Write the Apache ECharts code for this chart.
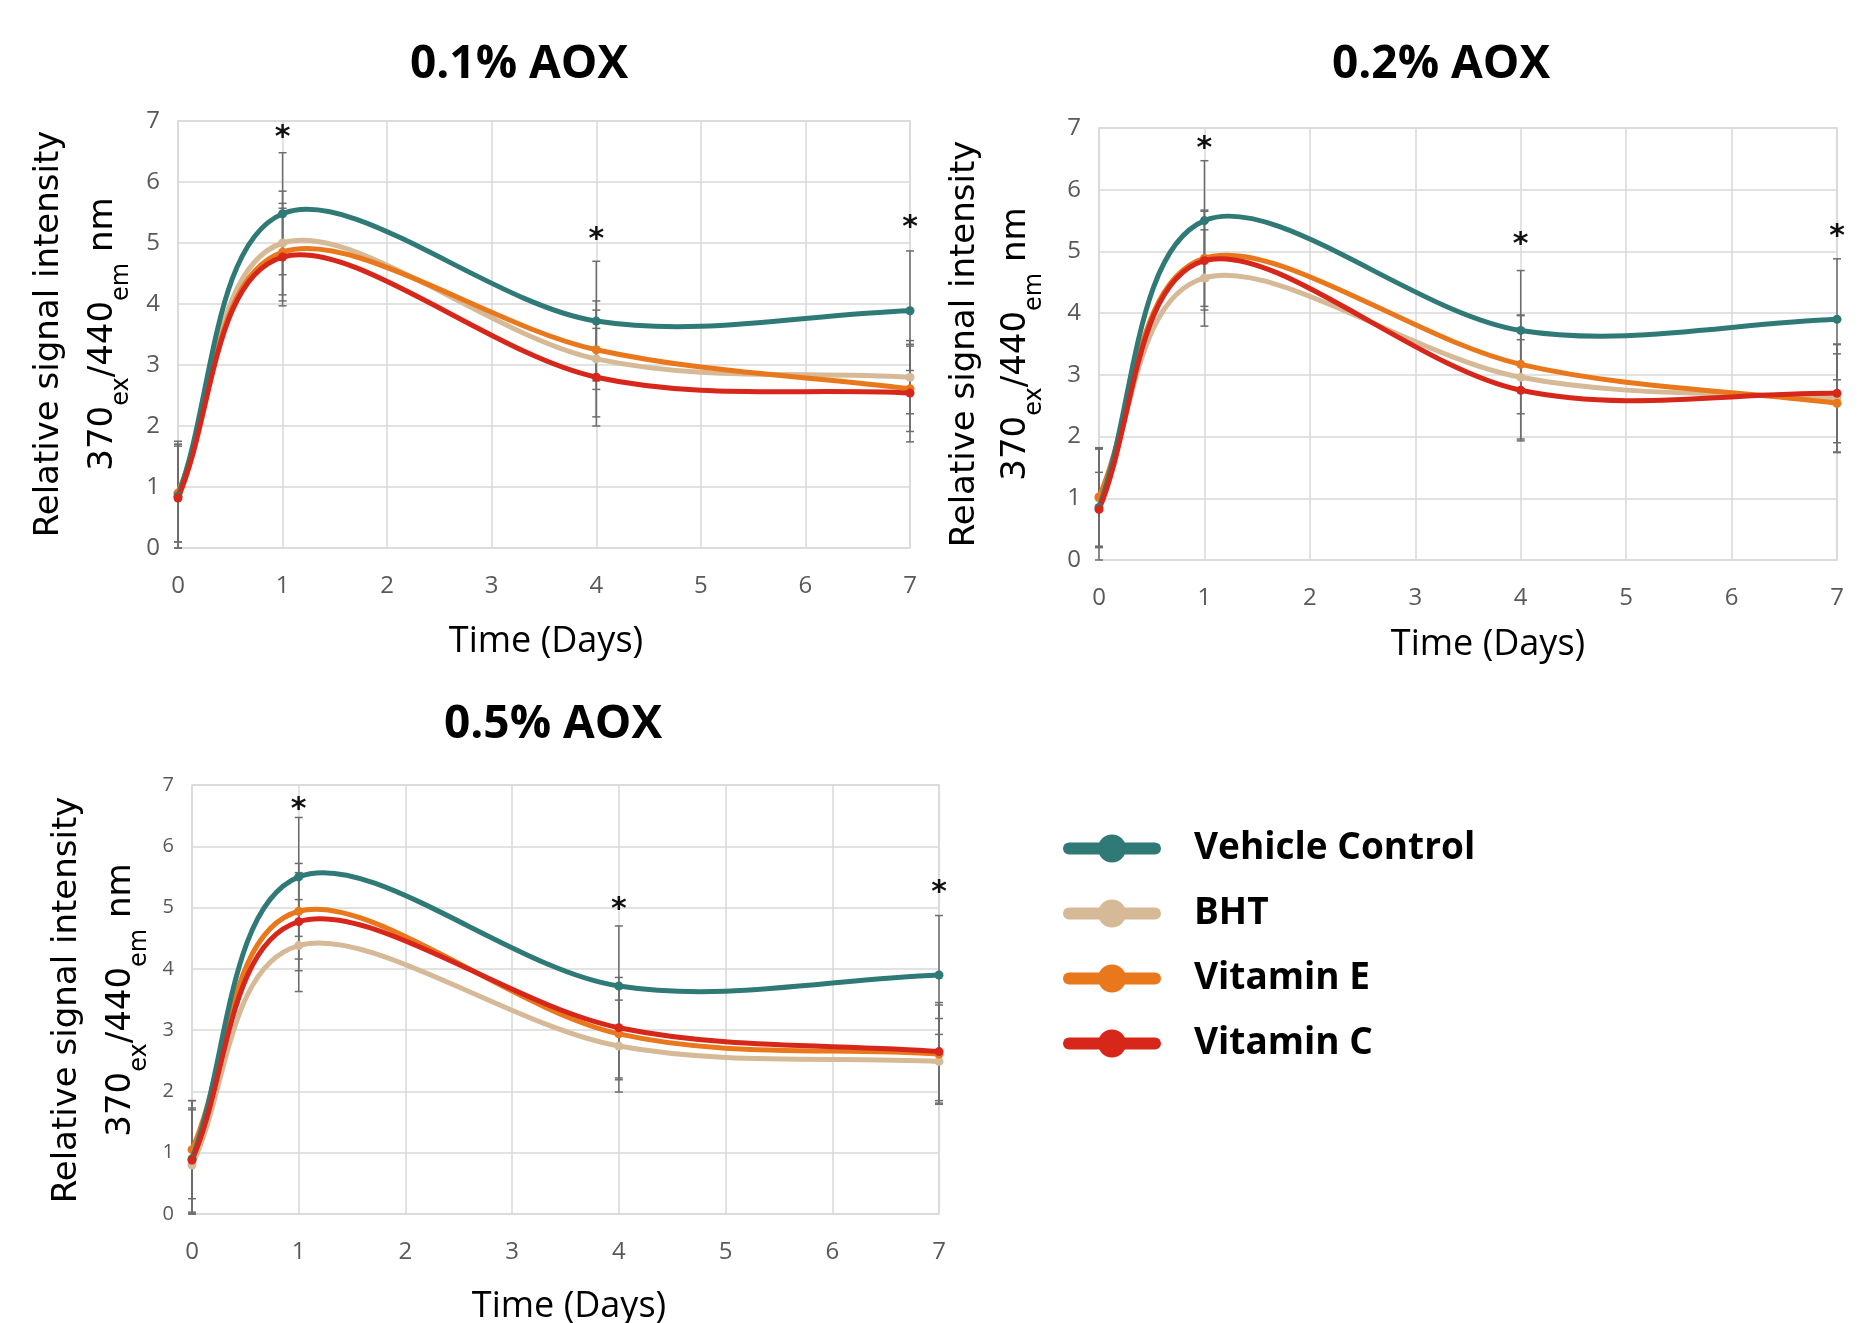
<!DOCTYPE html>
<html>
<head>
<meta charset="utf-8">
<title>AOX relative signal intensity</title>
<script src="https://cdn.jsdelivr.net/npm/echarts@6/dist/echarts.min.js"></script>
<style>
  html, body { margin: 0; padding: 0; background: #fff; }
  #main { width: 1860px; height: 1323px; }
</style>
</head>
<body>
<div id="main"></div>
<script>
// days sampled
const days = [0, 1, 4, 7];
const seriesNames = ["Vehicle Control", "BHT", "Vitamin E", "Vitamin C"];
const seriesColors = ["#2f7a76", "#d6b996", "#e9771b", "#d7261a"];
const panelTitles = ["0.1% AOX", "0.2% AOX", "0.5% AOX"];
const yTicks = [0, 1, 2, 3, 4, 5, 6, 7];

// 0.1% AOX
const vehicle1 = [0.85, 5.48, 3.72, 3.89];
const bht1 = [0.9, 5.0, 3.1, 2.8];
const vitE1 = [0.9, 4.85, 3.25, 2.61];
const vitC1 = [0.82, 4.77, 2.8, 2.54];
const vehicleSd1 = [0.9, 1.0, 0.98, 0.98];
const bhtSd1 = [0.8, 0.85, 0.95, 0.6];
const vitESd1 = [0.8, 0.8, 0.65, 0.7];
const vitCSd1 = [0.85, 0.8, 0.8, 0.8];
const stars1 = [6.82, 5.15, 5.34];

// 0.2% AOX
const vehicle2 = [0.85, 5.5, 3.72, 3.9];
const bht2 = [1.0, 4.57, 2.96, 2.62];
const vitE2 = [1.02, 4.89, 3.17, 2.54];
const vitC2 = [0.82, 4.85, 2.75, 2.7];
const vehicleSd2 = [0.95, 0.97, 0.97, 0.98];
const bhtSd2 = [0.8, 0.78, 1.0, 0.87];
const vitESd2 = [0.8, 0.78, 0.8, 0.8];
const vitCSd2 = [0.6, 0.8, 0.82, 0.8];
const stars2 = [6.75, 5.19, 5.33];

// 0.5% AOX
const vehicle3 = [0.9, 5.5, 3.72, 3.9];
const bht3 = [0.8, 4.38, 2.74, 2.49];
const vitE3 = [1.05, 4.94, 2.94, 2.61];
const vitC3 = [0.88, 4.77, 3.04, 2.65];
const vehicleSd3 = [0.95, 0.97, 0.98, 0.97];
const bhtSd3 = [0.9, 0.75, 0.75, 0.7];
const vitESd3 = [0.8, 0.78, 0.75, 0.8];
const vitCSd3 = [0.85, 0.8, 0.82, 0.8];
const stars3 = [6.69, 5.06, 5.33];
const starDays = [1, 4, 7];

const panels = [
  { values: [vehicle1, bht1, vitE1, vitC1], sds: [vehicleSd1, bhtSd1, vitESd1, vitCSd1], stars: stars1 },
  { values: [vehicle2, bht2, vitE2, vitC2], sds: [vehicleSd2, bhtSd2, vitESd2, vitCSd2], stars: stars2 },
  { values: [vehicle3, bht3, vitE3, vitC3], sds: [vehicleSd3, bhtSd3, vitESd3, vitCSd3], stars: stars3 },
];

// plot boxes in pixels
const boxes = [
  { left: 178, top: 121, width: 732, height: 427, yFont: 24 },
  { left: 1099, top: 128, width: 738, height: 432, yFont: 24 },
  { left: 192, top: 785, width: 747, height: 429, yFont: 20 },
];
const titlePos = [[514, 60], [1436, 60], [548, 720]];
const xTitlePos = [[546, 642], [1488, 645], [569, 1307]];
const yTitlePos = [[49, 103, 334], [965, 1016, 344], [67, 121, 1000]];

const gridColor = "#d9d9d9";
const labelFont = "'Liberation Sans Narrow', 'Open Sans', sans-serif";

function renderErr(params, api) {
  const x = api.value(0);
  const lo = api.coord([x, api.value(1)]);
  const hi = api.coord([x, api.value(2)]);
  const w = 4;
  const style = { stroke: "#6d6d6d", lineWidth: 1.5 };
  return {
    type: "group",
    children: [
      { type: "line", shape: { x1: lo[0], y1: lo[1], x2: hi[0], y2: hi[1] }, style },
      { type: "line", shape: { x1: lo[0] - w, y1: lo[1], x2: lo[0] + w, y2: lo[1] }, style },
      { type: "line", shape: { x1: hi[0] - w, y1: hi[1], x2: hi[0] + w, y2: hi[1] }, style },
    ],
  };
}

// spreadsheet-style smoothed line (cardinal spline through the points)
function makeCurve(vals, color) {
  return function (params, api) {
    if (params.dataIndex !== 0) return null;
    const pts = vals.map((v, i) => api.coord([days[i], v]));
    const n = pts.length;
    const at = (i) => {
      if (i < 0) return [2 * pts[0][0] - pts[1][0], 2 * pts[0][1] - pts[1][1]];
      if (i >= n) return [2 * pts[n - 1][0] - pts[n - 2][0], 2 * pts[n - 1][1] - pts[n - 2][1]];
      return pts[i];
    };
    const kids = [];
    for (let i = 0; i < n - 1; i++) {
      const p0 = at(i - 1), p1 = at(i), p2 = at(i + 1), p3 = at(i + 2);
      kids.push({
        type: "bezierCurve",
        shape: {
          x1: p1[0], y1: p1[1], x2: p2[0], y2: p2[1],
          cpx1: p1[0] + (p2[0] - p0[0]) / 6, cpy1: p1[1] + (p2[1] - p0[1]) / 6,
          cpx2: p2[0] - (p3[0] - p1[0]) / 6, cpy2: p2[1] - (p3[1] - p1[1]) / 6,
        },
        style: { stroke: color, lineWidth: 5, fill: null, lineCap: "round" },
      });
    }
    return { type: "group", children: kids };
  };
}

function renderStar(params, api) {
  const p = api.coord([api.value(0), api.value(1)]);
  return {
    type: "text",
    x: p[0],
    y: p[1] + 6,
    style: {
      text: "*",
      fill: "#111",
      font: "bold 30px 'DejaVu Sans'",
      align: "center",
      verticalAlign: "middle",
    },
  };
}

const grids = [];
const xAxes = [];
const yAxes = [];
const series = [];
const titles = [];
const graphics = [];

boxes.forEach((b, k) => {
  grids.push({ left: b.left, top: b.top, width: b.width, height: b.height, show: true, borderColor: gridColor, borderWidth: 1.5 });
  xAxes.push({
    type: "value", gridIndex: k, min: 0, max: 7, interval: 1,
    axisLine: { show: false }, axisTick: { show: false },
    splitLine: { lineStyle: { color: gridColor, width: 1.5 } },
    axisLabel: { color: "#595959", fontSize: 24, fontFamily: labelFont, margin: 26 },
  });
  yAxes.push({
    type: "value", gridIndex: k, min: 0, max: 7, interval: 1,
    axisLine: { show: false }, axisTick: { show: false },
    splitLine: { lineStyle: { color: gridColor, width: 1.5 } },
    axisLabel: { color: "#595959", fontSize: b.yFont, fontFamily: labelFont, margin: 18,
      formatter: (v) => (yTicks.includes(v) ? String(v) : "") },
  });

  const p = panels[k];
  const errData = [];
  p.values.forEach((vals, s) => {
    vals.forEach((v, i) => {
      errData.push([days[i], Math.max(0, v - p.sds[s][i]), v + p.sds[s][i]]);
    });
  });
  series.push({
    type: "custom", xAxisIndex: k, yAxisIndex: k, z: 1, silent: true,
    renderItem: renderErr, encode: { x: 0, y: [1, 2] }, data: errData,
  });

  p.values.forEach((vals, s) => {
    const zz = s === 0 ? 8 : 2 + s * 2;
    series.push({
      name: seriesNames[s], type: "line", xAxisIndex: k, yAxisIndex: k, z: zz + 1,
      symbol: "circle", symbolSize: 9,
      itemStyle: { color: seriesColors[s] },
      lineStyle: { width: 0, color: seriesColors[s] },
      data: vals.map((v, i) => [days[i], v]),
    });
    series.push({
      type: "custom", xAxisIndex: k, yAxisIndex: k, z: zz, silent: true,
      renderItem: makeCurve(vals, seriesColors[s]), encode: { x: 0, y: 1 },
      data: vals.map((v, i) => [days[i], v]),
    });
  });

  series.push({
    type: "custom", xAxisIndex: k, yAxisIndex: k, z: 12, silent: true,
    renderItem: renderStar, encode: { x: 0, y: 1 },
    data: starDays.map((d, i) => [d, p.stars[i]]),
  });

  titles.push({
    text: panelTitles[k], left: titlePos[k][0], top: titlePos[k][1] - 30, textAlign: "center",
    textStyle: { fontFamily: "'Open Sans'", fontWeight: "bold", fontSize: 46, color: "#000", lineHeight: 60 },
  });

  graphics.push({
    type: "text", x: xTitlePos[k][0], y: xTitlePos[k][1],
    style: { text: "Time (Days)", font: "36px 'Open Sans'", fill: "#000", align: "center", verticalAlign: "middle" },
  });
  const yt = yTitlePos[k];
  graphics.push({
    type: "text", x: yt[0], y: yt[2], rotation: Math.PI / 2,
    style: { text: "Relative signal intensity", font: "34px 'DejaVu Sans'", fill: "#000", align: "center", verticalAlign: "middle" },
  });
  graphics.push({
    type: "text", x: yt[1], y: yt[2], rotation: Math.PI / 2,
    style: {
      text: "{n|370}{s|ex}{n|/440}{s|em}{n| nm}",
      align: "center", verticalAlign: "middle",
      rich: {
        n: { fontFamily: "'DejaVu Sans'", fontSize: 34, lineHeight: 46, fill: "#000", color: "#000" },
        s: { fontFamily: "'DejaVu Sans'", fontSize: 24, lineHeight: 46, fill: "#000", color: "#000", verticalAlign: "bottom", padding: [0, 0, -8, 0] },
      },
    },
  });
});

const chart = echarts.init(document.getElementById("main"));
chart.setOption({
  animation: false,
  backgroundColor: "#fff",
  title: titles,
  grid: grids,
  xAxis: xAxes,
  yAxis: yAxes,
  series: series,
  graphic: graphics,
  legend: {
    data: seriesNames,
    orient: "vertical",
    left: 1058,
    top: 825,
    itemWidth: 86,
    itemHeight: 35,
    itemGap: 28,
    lineStyle: { width: 12, cap: "round" },
    textStyle: { fontFamily: "'Open Sans'", fontWeight: "bold", fontSize: 37, color: "#000", padding: [0, 0, 0, 34] },
  },
});
</script>
</body>
</html>
